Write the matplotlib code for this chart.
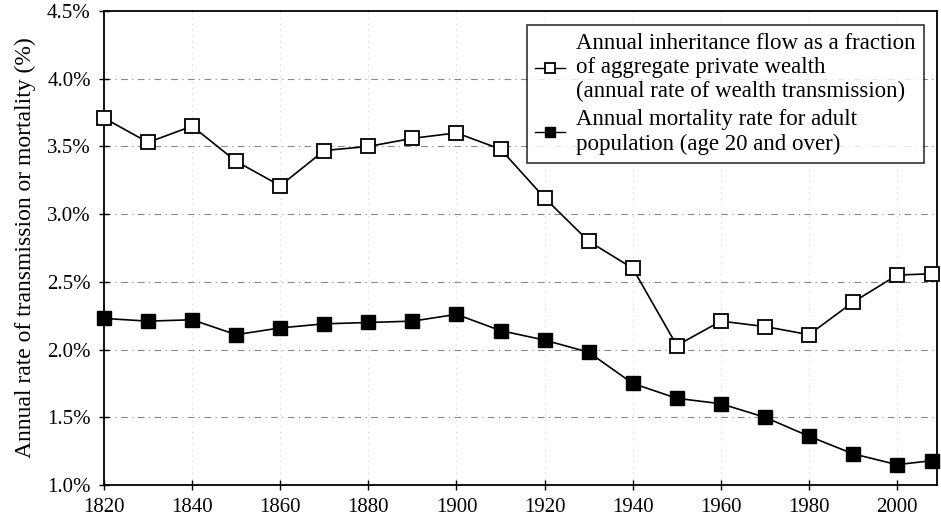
import matplotlib.pyplot as plt
from matplotlib.ticker import FuncFormatter

# decades, last point is 2008
years = [1820, 1830, 1840, 1850, 1860, 1870, 1880, 1890, 1900, 1910,
         1920, 1930, 1940, 1950, 1960, 1970, 1980, 1990, 2000, 2008]

# annual inheritance flow / private wealth (%)
inheritance = [3.71, 3.53, 3.65, 3.39, 3.21, 3.47, 3.50, 3.56, 3.60, 3.48,
               3.12, 2.80, 2.60, 2.03, 2.21, 2.17, 2.11, 2.35, 2.55, 2.56]

# annual adult mortality rate (%)
mortality = [2.23, 2.21, 2.22, 2.11, 2.16, 2.19, 2.20, 2.21, 2.26, 2.14,
             2.07, 1.98, 1.75, 1.64, 1.60, 1.50, 1.36, 1.23, 1.15, 1.18]

y_ticks = [1.0, 1.5, 2.0, 2.5, 3.0, 3.5, 4.0, 4.5]
x_ticks = [1820, 1840, 1860, 1880, 1900, 1920, 1940, 1960, 1980, 2000]

label_inh = ("Annual inheritance flow as a fraction\n"
             "of aggregate private wealth\n"
             "(annual rate of wealth transmission)")
label_mort = "Annual mortality rate for adult\npopulation (age 20 and over)"

plt.rcParams['font.family'] = ['Liberation Serif', 'DejaVu Serif']

fig = plt.figure(figsize=(9.41, 5.26), dpi=100)
ax = fig.add_axes([0.1105, 0.078, 0.885, 0.901])

ax.plot(years, inheritance, color='black', lw=1.2, marker='s', ms=10,
        mfc='white', mec='black', mew=1.3, label=label_inh, clip_on=False,
        zorder=3)
ax.plot(years, mortality, color='black', lw=1.2, marker='s', ms=10,
        mfc='black', mec='black', label=label_mort, clip_on=False, zorder=3)

ax.set_xlim(1820, 2009)
ax.set_ylim(1.0, 4.5)
ax.set_xticks(x_ticks)
ax.set_yticks(y_ticks)
ax.yaxis.set_major_formatter(FuncFormatter(lambda v, p: f"{v:.1f}%"))

# faint dashed horizontal grid, dotted vertical
for v in y_ticks[1:-1]:
    ax.axhline(v, color='#888888', lw=0.8, ls=(0, (6, 4, 1, 4)), zorder=0)
for v in x_ticks[1:]:
    ax.axvline(v, color='#bbbbbb', lw=0.6, ls=(0, (1, 6)), zorder=0)

ax.tick_params(direction='inout', length=7, width=1, labelsize=15, pad=6)
for s in ax.spines.values():
    s.set_linewidth(1.3)

ax.set_ylabel("Annual rate of transmission or mortality (%)", fontsize=17,
              labelpad=8)

leg = ax.legend(loc='upper right', bbox_to_anchor=(0.998, 0.995), fontsize=16.5,
                frameon=True, fancybox=False, edgecolor='black',
                handlelength=1.3, handletextpad=0.5, borderpad=0.35,
                labelspacing=0.3, markerscale=0.7)
leg.get_frame().set_linewidth(1.2)
for line in leg.get_lines():
    line.set_linewidth(1.0)

fig.savefig("out.png", dpi=100)
